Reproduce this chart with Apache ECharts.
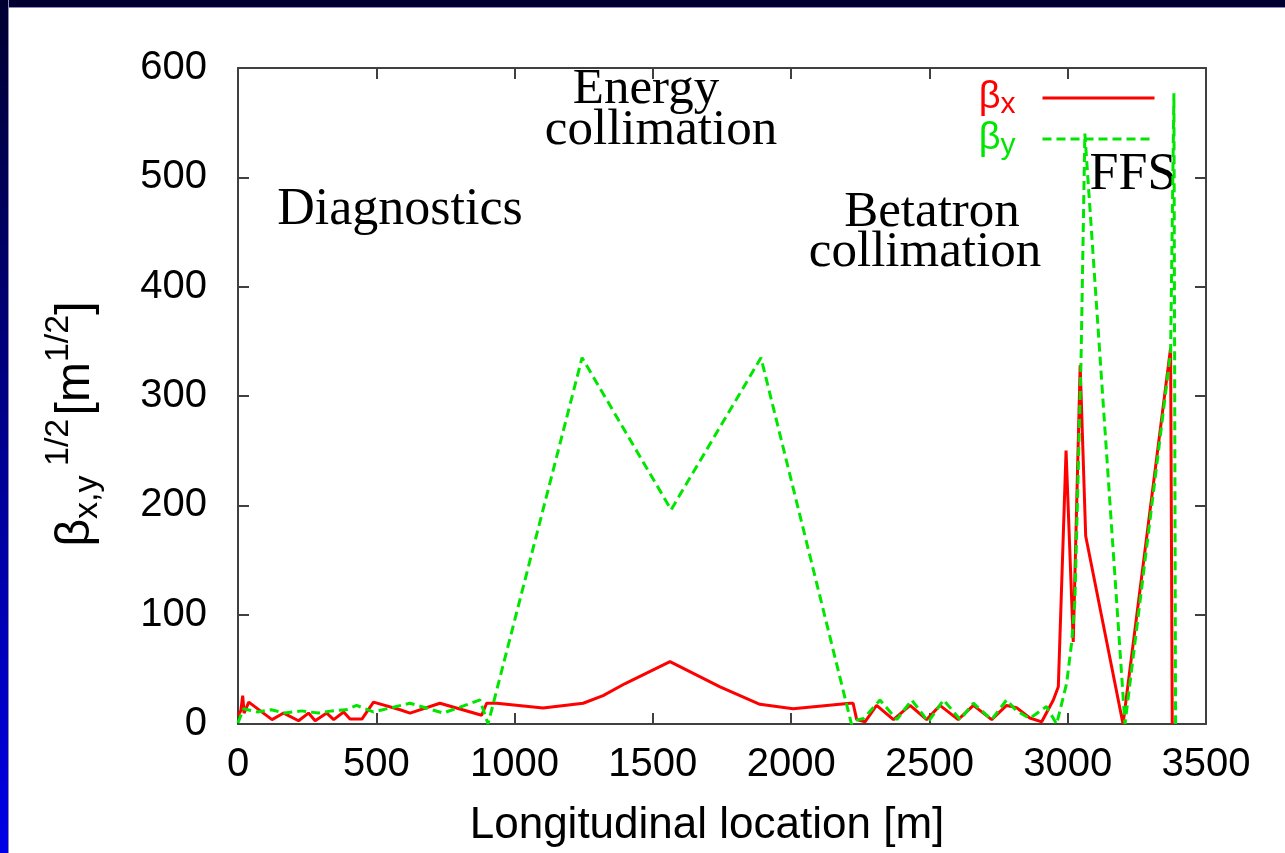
<!DOCTYPE html>
<html><head><meta charset="utf-8">
<script src="https://cdn.jsdelivr.net/npm/echarts@6/dist/echarts.min.js"></script>
<style>
html,body{margin:0;padding:0;width:1285px;height:853px;overflow:hidden;background:#fff;}
#chart{position:absolute;left:0;top:0;width:1285px;height:853px;}
#frameTop{position:absolute;left:0;top:0;width:1285px;height:7px;background:#000030;border-bottom:1px solid #8c8cc0;z-index:5;}
#frameLeft{position:absolute;left:0;top:0;width:8px;height:853px;background:linear-gradient(#000030,#0000e6);border-right:1px solid #8c8cc0;z-index:6;}
</style></head>
<body>
<div id="chart"></div>
<div id="frameTop"></div>
<div id="frameLeft"></div>
<script>
// beta_x (red, solid)
const redX = [0,10,17,22,39,123,165,219,255,279,321,346,382,405,448,490,586,622,730,881,899,935,1103,1248,1320,1400,1562,1743,1887,2007,2213,2224,2237,2267,2309,2370,2430,2490,2538,2604,2659,2725,2779,2815,2863,2906,2948,2966,2994,3020,3045,3065,3200,3372,3378];
const redY = [8,12,26,10,20,4,10,3,10,3,10,4,11,4.5,4.5,20,13,10,19,8,19,19,14.6,19,26,37,57,34,18,14,19,19,4,2,17,4,17,4,17,4,17,4,17,15,5.5,2,22,34,250,75,328,172,0,344,0];
// beta_y (green, dashed)
const greenX = [0,20,70,120,170,230,290,340,390,429,489,622,742,875,904,1244,1566,1891,2218,2224,2262,2321,2382,2436,2496,2551,2611,2659,2725,2779,2815,2863,2923,2960,2996,3014,3026,3048,3062,3207,3372,3384,3390];
const greenY = [1,14,11,13,10,12,10,12,13,17,11,19,10,22,0,335,196,335,0,3,5,22,4,22,2,22,4,19,4,22,12,5,16,0,37,74,113,330,540,0,340,577,0];
const annotations = ['Diagnostics','Energy','collimation','Betatron','collimation','FFS'];

const redData = redX.map((x,i)=>[x,redY[i]]);
const greenData = greenX.map((x,i)=>[x,greenY[i]]);

const axisLineStyle = {color:'#404040', width:2};
const serif = 'Liberation Serif';
const sans = 'Liberation Sans';
const plain = v => String(v);

const chart = echarts.init(document.getElementById('chart'));
chart.setOption({
  animation:false,
  backgroundColor:'#fff',
  grid:{left:238, right:79, top:68, bottom:129},
  xAxis:[{
    type:'value', min:0, max:3500, interval:500, position:'bottom',
    axisLine:{show:true, onZero:false, lineStyle:axisLineStyle},
    axisTick:{show:true, inside:true, length:11, lineStyle:axisLineStyle},
    splitLine:{show:false},
    axisLabel:{fontFamily:sans, fontSize:40, color:'#000', margin:21, formatter:plain},
    name:'Longitudinal location [m]', nameLocation:'middle', nameGap:80,
    nameTextStyle:{fontFamily:sans, fontSize:44, color:'#000', padding:[0,30,0,0]}
  },{
    type:'value', min:0, max:3500, interval:500, position:'top',
    axisLine:{show:true, onZero:false, lineStyle:axisLineStyle},
    axisTick:{show:true, inside:true, length:11, lineStyle:axisLineStyle},
    splitLine:{show:false}, axisLabel:{show:false}
  }],
  yAxis:[{
    type:'value', min:0, max:600, interval:100, position:'left',
    axisLine:{show:true, onZero:false, lineStyle:axisLineStyle},
    axisTick:{show:true, inside:true, length:11, lineStyle:axisLineStyle},
    splitLine:{show:false},
    axisLabel:{fontFamily:sans, fontSize:40, color:'#000', margin:31, formatter:plain}
  },{
    type:'value', min:0, max:600, interval:100, position:'right',
    axisLine:{show:true, onZero:false, lineStyle:axisLineStyle},
    axisTick:{show:true, inside:true, length:11, lineStyle:axisLineStyle},
    splitLine:{show:false}, axisLabel:{show:false}
  }],
  legend:{
    orient:'vertical', right:124, top:74, align:'right',
    itemWidth:112, itemHeight:14, itemGap:0,
    itemStyle:{opacity:0},
    lineStyle:{width:3},
    data:['βx','βy'],
    formatter:function(n){ return n==='βx' ? '{rb|β}{rs|x}' : '{gb|β}{gs|y}'; },
    textStyle:{
      rich:{
        rb:{fontFamily:sans, fontSize:38, color:'#ff0000'},
        rs:{fontFamily:sans, fontSize:30, color:'#ff0000', padding:[14,22,0,0]},
        gb:{fontFamily:sans, fontSize:38, color:'#00e600'},
        gs:{fontFamily:sans, fontSize:30, color:'#00e600', padding:[14,22,0,0]}
      }
    }
  },
  graphic:[
    {type:'text', x:400, y:210, style:{text:annotations[0], font:'52px '+serif, fill:'#000', align:'center', verticalAlign:'middle'}},
    {type:'text', x:646, y:90, style:{text:annotations[1], font:'51px '+serif, fill:'#000', align:'center', verticalAlign:'middle'}},
    {type:'text', x:661, y:131, style:{text:annotations[2], font:'51px '+serif, fill:'#000', align:'center', verticalAlign:'middle'}},
    {type:'text', x:932, y:213, style:{text:annotations[3], font:'51px '+serif, fill:'#000', align:'center', verticalAlign:'middle'}},
    {type:'text', x:925, y:253, style:{text:annotations[4], font:'51px '+serif, fill:'#000', align:'center', verticalAlign:'middle'}},
    {type:'text', x:1133, y:175, style:{text:annotations[5], font:'52px '+serif, fill:'#000', align:'center', verticalAlign:'middle'}},
    {type:'text', x:76, y:424, rotation:Math.PI/2, style:{
      text:'{b|β}{sub|x,y}{sup| 1/2} {b|[m}{sup|1/2}{b|]}',
      align:'center', verticalAlign:'middle',
      rich:{
        b:{fontFamily:sans, fontSize:48, fill:'#000', color:'#000'},
        sub:{fontFamily:sans, fontSize:34, fill:'#000', color:'#000', padding:[24,0,0,0]},
        sup:{fontFamily:sans, fontSize:34, fill:'#000', color:'#000', padding:[0,0,34,0]}
      }
    }}
  ],
  series:[{
    name:'βx', type:'line', data:redData, symbol:'none', showSymbol:false,
    xAxisIndex:0, yAxisIndex:0, z:2,
    lineStyle:{color:'#ff0000', width:3}, itemStyle:{color:'#ff0000'}
  },{
    name:'βy', type:'line', data:greenData, symbol:'none', showSymbol:false,
    xAxisIndex:0, yAxisIndex:0, z:3,
    lineStyle:{color:'#00e600', width:3, type:[9,5]}, itemStyle:{color:'#00e600'}
  }]
});
</script>
</body></html>
